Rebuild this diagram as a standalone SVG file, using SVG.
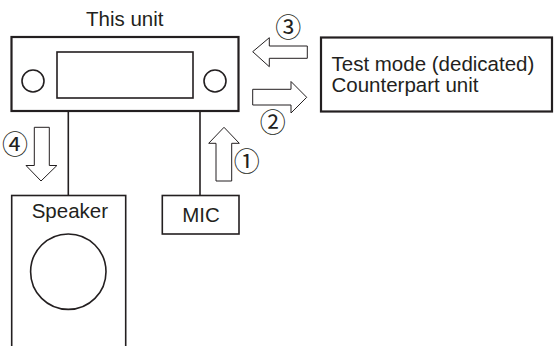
<svg xmlns="http://www.w3.org/2000/svg" width="554" height="346" viewBox="0 0 554 346">
<style>
.box{fill:#fff;stroke:#231f20;stroke-width:1.6}
.thick{stroke-width:2.2}
.ln{fill:none;stroke:#231f20;stroke-width:1.6}
.arr{fill:#fff;stroke:#231f20;stroke-width:1}
.t{font-family:"Liberation Sans",Arial,sans-serif;font-size:20.5px;fill:#231f20}
.n{font-family:"Noto Sans CJK JP","DejaVu Sans",sans-serif;font-size:26px;fill:#231f20;text-anchor:middle}
</style>
<rect width="554" height="346" fill="#fff"/>
<g id="connectors">
<line class="ln" x1="68.3" y1="111" x2="68.3" y2="195.5"/>
<line class="ln" x1="200" y1="111" x2="200" y2="195.5"/>
</g>
<g id="this-unit">
<rect class="box thick" x="11.5" y="37" width="227" height="74"/>
<rect class="box" x="57" y="52" width="136" height="46"/>
<circle class="box" cx="33" cy="81" r="11"/>
<circle class="box" cx="215" cy="81" r="11"/>
<text class="t" x="86" y="26">This unit</text>
</g>
<g id="counterpart">
<rect class="box thick" x="321" y="37.5" width="231" height="74"/>
<text class="t" x="331.5" y="71" font-size="21">Test mode (dedicated)</text>
<text class="t" x="331.5" y="92" font-size="21">Counterpart unit</text>
</g>
<g id="speaker">
<rect class="box" x="11.7" y="195.5" width="114" height="160"/>
<circle class="box" cx="68.3" cy="271.7" r="37.7"/>
<text class="t" x="31.7" y="217.7">Speaker</text>
</g>
<g id="mic">
<rect class="box" x="162.3" y="195.5" width="76.7" height="38.5"/>
<text class="t" x="182.3" y="222.3">MIC</text>
</g>
<g id="arrows">
<polygon class="arr" points="307.3,46 269.3,46 269.3,37.7 252.7,51.7 269.3,66.7 269.3,58.3 307.3,58.3"/>
<polygon class="arr" points="252.7,89.3 291,89.3 291,81.5 306.7,97.3 291,113 291,105 252.7,105"/>
<polygon class="arr" points="216,181 231.7,181 231.7,143.3 239.3,143.3 224,127.3 208.7,143.3 216,143.3"/>
<polygon class="arr" points="34.3,127.3 49.3,127.3 49.3,165.5 56.9,165.5 41,181 26,165.5 34.3,165.5"/>
<text class="n" x="288.3" y="37.4">③</text>
<text class="n" x="272.7" y="132.4">②</text>
<text class="n" x="246.7" y="171.4">①</text>
<text class="n" x="15" y="154.1">④</text>
</g>
</svg>
